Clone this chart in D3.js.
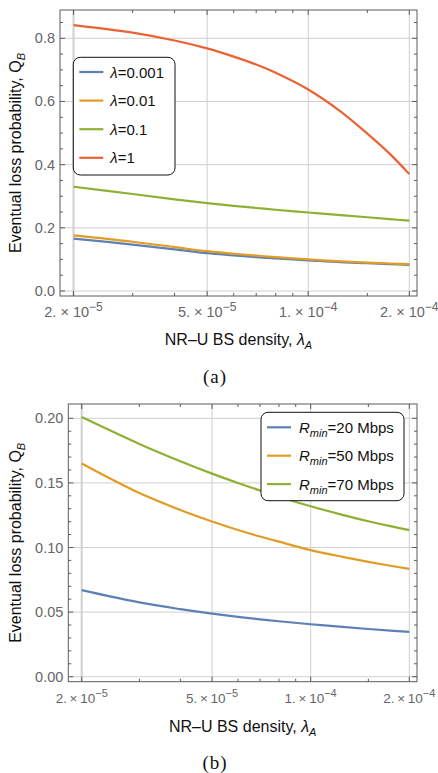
<!DOCTYPE html>
<html>
<head>
<meta charset="utf-8">
<script src="https://cdn.jsdelivr.net/npm/d3@7"></script>
<style>
  body { margin: 0; background: #fff; }
  text { font-family: "Liberation Sans", Arial, sans-serif; }
</style>
</head>
<body>
<svg id="chart" width="438" height="773"></svg>
<script>
// x values shared by all curves (BS density)
const densities = [2e-5, 3e-5, 4e-5, 5e-5, 6e-5, 7e-5, 8e-5, 1e-4, 1.25e-4, 1.5e-4, 1.75e-4, 2e-4];

// panel (a): eventual loss probability for several lambda
const lambdaLabels = ["0.001", "0.01", "0.1", "1"];
const qLam0001 = [0.166, 0.147, 0.132, 0.120, 0.113, 0.107, 0.103, 0.097, 0.091, 0.088, 0.085, 0.083];
const qLam001  = [0.176, 0.156, 0.139, 0.126, 0.118, 0.112, 0.107, 0.100, 0.094, 0.090, 0.087, 0.085];
const qLam01   = [0.330, 0.307, 0.290, 0.278, 0.2695, 0.2628, 0.2573, 0.2486, 0.2401, 0.2334, 0.2276, 0.2226];
const qLam1    = [0.842, 0.818, 0.793, 0.768, 0.742, 0.717, 0.691, 0.638, 0.568, 0.498, 0.434, 0.370];

// panel (b): eventual loss probability for several R_min
const rminLabels = ["20", "50", "70"];
const qR20 = [0.067, 0.0575, 0.0523, 0.0488, 0.0463, 0.0444, 0.0429, 0.0406, 0.0385, 0.0369, 0.0357, 0.0347];
const qR50 = [0.165, 0.1421, 0.129, 0.1201, 0.1135, 0.1085, 0.1045, 0.098, 0.0928, 0.0889, 0.0859, 0.0835];
const qR70 = [0.201, 0.1802, 0.1668, 0.1572, 0.1499, 0.1441, 0.1393, 0.1319, 0.1253, 0.1203, 0.1165, 0.1135];

// ticks
const xMajor = [2e-5, 5e-5, 1e-4, 2e-4];
const xMajorLabels = [["2.", "\u22125"], ["5.", "\u22125"], ["1.", "\u22124"], ["2.", "\u22124"]];
const xMinor = [3e-5, 4e-5, 6e-5, 7e-5, 8e-5, 9e-5, 1.5e-4];
const yMajorA = [0, 0.2, 0.4, 0.6, 0.8];
const yLabelsA = ["0.0", "0.2", "0.4", "0.6", "0.8"];
const yMinorA = [0.05, 0.1, 0.15, 0.25, 0.3, 0.35, 0.45, 0.5, 0.55, 0.65, 0.7, 0.75, 0.85];
const yMajorB = [0, 0.05, 0.1, 0.15, 0.2];
const yLabelsB = ["0.00", "0.05", "0.10", "0.15", "0.20"];
const yMinorB = [0.01, 0.02, 0.03, 0.04, 0.06, 0.07, 0.08, 0.09, 0.11, 0.12, 0.13, 0.14, 0.16, 0.17, 0.18, 0.19];

const colors = ["#5e81b5", "#e19c24", "#8fb032", "#eb6235"];

const svg = d3.select("#chart");

function drawPanel(p) {
  const g = svg.append("g");
  const x = d3.scaleLog().domain([2e-5, 2e-4]).range(p.xRange);
  const y = d3.scaleLinear().domain(p.yDomain).range(p.yRange);
  const f = p.frame;

  // grid
  g.selectAll(".vgrid").data(xMajor).enter().append("line")
    .attr("x1", d => x(d)).attr("x2", d => x(d))
    .attr("y1", f.top).attr("y2", f.bottom)
    .attr("stroke", "#d0d0d0").attr("stroke-width", (d, i) => i === 0 ? 2 : 1);
  g.selectAll(".hgrid").data(p.yMajor).enter().append("line")
    .attr("x1", f.left).attr("x2", f.right)
    .attr("y1", d => y(d)).attr("y2", d => y(d))
    .attr("stroke", "#d0d0d0").attr("stroke-width", 1);

  // curves
  const line = d3.line()
    .x((d, i) => x(densities[i]))
    .y(d => y(d))
    .curve(d3.curveCatmullRom.alpha(0.5));
  p.series.forEach((s, i) => {
    g.append("path").datum(s)
      .attr("d", line)
      .attr("fill", "none")
      .attr("stroke", colors[i])
      .attr("stroke-width", 2.2);
  });

  // frame
  g.append("rect")
    .attr("x", f.left).attr("y", f.top)
    .attr("width", f.right - f.left).attr("height", f.bottom - f.top)
    .attr("fill", "none").attr("stroke", "#5c5c5c").attr("stroke-width", 1);

  // ticks, pointing inwards on all four sides
  const tick = (vals, len) => {
    vals.forEach(v => {
      const px = x(v);
      g.append("line").attr("x1", px).attr("x2", px).attr("y1", f.bottom).attr("y2", f.bottom - len).attr("stroke", "#5c5c5c");
      g.append("line").attr("x1", px).attr("x2", px).attr("y1", f.top).attr("y2", f.top + len).attr("stroke", "#5c5c5c");
    });
  };
  tick(xMajor, 5);
  tick(xMinor, 3);
  const ytick = (vals, len) => {
    vals.forEach(v => {
      const py = y(v);
      if (py < f.top || py > f.bottom) return;
      g.append("line").attr("x1", f.left).attr("x2", f.left + len).attr("y1", py).attr("y2", py).attr("stroke", "#5c5c5c");
      g.append("line").attr("x1", f.right).attr("x2", f.right - len).attr("y1", py).attr("y2", py).attr("stroke", "#5c5c5c");
    });
  };
  ytick(p.yMajor, 5);
  ytick(p.yMinor, 3);

  // y tick labels
  g.selectAll(".ylab").data(p.yMajor).enter().append("text")
    .attr("x", f.left - 5)
    .attr("y", d => y(d) + 5)
    .attr("text-anchor", "end")
    .attr("font-size", 14.5)
    .attr("fill", "#666")
    .text((d, i) => p.yLabels[i]);

  // x tick labels like 2.×10^-5
  xMajor.forEach((v, i) => {
    const t = g.append("text")
      .attr("x", x(v))
      .attr("y", f.bottom + 21)
      .attr("text-anchor", "middle")
      .attr("font-size", p.xLabelSize)
      .attr("fill", "#666");
    t.append("tspan").text(xMajorLabels[i][0] + p.timesSep + "\u00d7" + p.timesSep + "10");
    t.append("tspan").attr("dy", -6).attr("font-size", p.xLabelSize - 2.5).text(xMajorLabels[i][1]);
  });

  // axis titles
  const xt = g.append("text")
    .attr("x", (f.left + f.right) / 2)
    .attr("y", p.xTitleY)
    .attr("text-anchor", "middle")
    .attr("font-size", 16)
    .attr("fill", "#111");
  xt.append("tspan").text("NR\u2013U BS density, ");
  xt.append("tspan").attr("font-style", "italic").text("\u03bb");
  xt.append("tspan").attr("font-style", "italic").attr("font-size", 11).attr("dy", 4).text("A");

  const yt = g.append("text")
    .attr("transform", `translate(21,${(f.top + f.bottom) / 2}) rotate(-90)`)
    .attr("text-anchor", "middle")
    .attr("font-size", 16)
    .attr("fill", "#111");
  yt.append("tspan").text("Eventual loss probability, Q");
  yt.append("tspan").attr("font-style", "italic").attr("font-size", 11).attr("dy", 4).text("B");

  // caption
  svg.append("text")
    .attr("x", p.captionX)
    .attr("y", p.captionY)
    .attr("text-anchor", "middle")
    .attr("font-size", 19)
    .attr("letter-spacing", 1)
    .attr("fill", "#111")
    .style("font-family", "'Liberation Serif', serif")
    .text(p.caption);

  // legend
  const L = p.legend;
  g.append("rect")
    .attr("x", L.x).attr("y", L.y).attr("width", L.w).attr("height", L.h)
    .attr("rx", 7).attr("fill", "#fff").attr("stroke", "#111").attr("stroke-width", 1);
  L.labels.forEach((lab, i) => {
    const ry = L.y + L.first + i * L.step;
    g.append("line")
      .attr("x1", L.x + 6).attr("x2", L.x + 30)
      .attr("y1", ry).attr("y2", ry)
      .attr("stroke", colors[i]).attr("stroke-width", 2.2);
    const t = g.append("text")
      .attr("x", L.x + L.textOff).attr("y", ry + 5.5)
      .attr("font-size", 15).attr("fill", "#111");
    lab(t);
  });
}

drawPanel({
  frame: { left: 60, right: 417, top: 10, bottom: 296 },
  xRange: [73.5, 409.3],
  yDomain: [0, 0.8],
  yRange: [291, 38.3],
  yMajor: yMajorA, yLabels: yLabelsA, yMinor: yMinorA,
  series: [qLam0001, qLam001, qLam01, qLam1],
  xLabelSize: 14.5, timesSep: " ",
  xTitleY: 345,
  caption: "(a)", captionX: 215, captionY: 383,
  legend: {
    x: 73.3, y: 57.3, w: 101.7, h: 117.7, first: 14.7, step: 28.6, textOff: 37,
    labels: lambdaLabels.map(v => t => {
      t.append("tspan").attr("font-style", "italic").text("\u03bb");
      t.append("tspan").text("=" + v);
    })
  }
});

drawPanel({
  frame: { left: 68.3, right: 417, top: 404, bottom: 681.7 },
  xRange: [81.7, 409.3],
  yDomain: [0, 0.2],
  yRange: [676.7, 418.3],
  yMajor: yMajorB, yLabels: yLabelsB, yMinor: yMinorB,
  series: [qR20, qR50, qR70],
  xLabelSize: 13.5, timesSep: "\u2009",
  xTitleY: 731.5,
  caption: "(b)", captionX: 215, captionY: 769,
  legend: {
    x: 261, y: 412.3, w: 143, h: 88.4, first: 15, step: 28.4, textOff: 38,
    labels: rminLabels.map(v => t => {
      t.append("tspan").attr("font-style", "italic").text("R");
      t.append("tspan").attr("font-style", "italic").attr("font-size", 11).attr("dy", 4).text("min");
      t.append("tspan").attr("dy", -4).text("=" + v + " Mbps");
    })
  }
});
</script>
</body>
</html>
